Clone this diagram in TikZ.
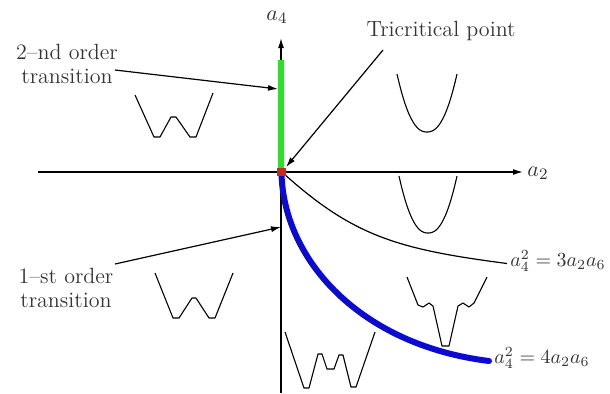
\documentclass[tikz,border=0pt]{standalone}
\usetikzlibrary{arrows.meta}
\tikzset{
  lbl/.style={font=\fontsize{11}{12}\selectfont, inner sep=0pt, text=black!80},
  eqlbl/.style={font=\fontsize{10}{12}\selectfont, inner sep=0pt, text=black!80},
  axisline/.style={line width=0.7pt, -{Latex[length=5pt,width=3pt]}},
  ptr/.style={line width=0.6pt, -{Latex[length=5pt,width=3pt]}},
  pot/.style={line width=0.55pt, line join=round},
  greenline/.style={line width=2.6pt, draw={rgb,255:red,40;green,225;blue,40}},
  blueline/.style={line width=3pt, draw={rgb,255:red,10;green,10;blue,210}},
  tripoint/.style={fill={rgb,255:red,200;green,40;blue,30}, minimum width=4.5pt, minimum height=3.8pt, inner sep=0pt}
}
\begin{document}
\begin{tikzpicture}[x=0.5pt,y=-0.5pt]
\useasboundingbox (0,0) rectangle (610,393);
% origin
\coordinate (O) at (281,172);
\coordinate (xs) at (38,172);
\coordinate (xe) at (523,172);
\coordinate (ys) at (281,393);
\coordinate (ye) at (281,38);
% axes
\draw[axisline] (xs) -- (xe);
\draw[axisline] (ys) -- (ye);
\node[lbl] (a2) at (538,173) {$a_2$};
\node[lbl] (a4) at (277,17) {$a_4$};
% green second-order line
\coordinate (gtop) at (281,60);
\coordinate (gbot) at (281,170);
\draw[greenline] (gtop) -- (gbot);
% curve ends
\coordinate (c3s) at (283,173);
\coordinate (c3e) at (507,263.5);
\coordinate (c4s) at (281.5,174);
\coordinate (c4e) at (489,361);
% black curve a4^2 = 3 a2 a6
\draw[line width=0.6pt] (c3s) .. controls (353,236) and (397,249.2) .. (c3e);
% blue curve a4^2 = 4 a2 a6
\draw[blueline, line cap=round] (c4s) .. controls (284,260) and (360,345) .. (c4e);
% tricritical point
\node[tripoint] (tp) at (O) {};
% labels of curves
\node[eqlbl, anchor=west] (eq3) at (510,261) {$a_4^2 = 3a_2a_6$};
\node[eqlbl, anchor=west] (eq4) at (494,358) {$a_4^2 = 4a_2a_6$};
% text labels
\node[lbl] (tri) at (441,31) {Tricritical point};
\node[lbl, align=center] (second) at (67,64) {2\textendash nd order\\transition};
\node[lbl, align=center] (first) at (66,288) {1\textendash st order\\transition};
% pointers
\coordinate (triS) at (383,50);
\coordinate (triE) at (286,167);
\draw[ptr] (triS) -- (triE);
\coordinate (secS) at (115,70);
\coordinate (secE) at (278,89);
\draw[ptr] (secS) -- (secE);
\coordinate (firS) at (115,264);
\coordinate (firE) at (281,227);
\draw[ptr] (firS) -- (firE);
% potentials
\draw[pot] (135,95) -- (154,137) -- (160,137) -- (171,117) -- (176,117) -- (190,137) -- (196,137) -- (213,93);
\draw[pot] plot[domain=-1:1, samples=40] ({427+30*\x}, {132-58*abs(\x)^2.3});
\draw[pot] plot[domain=-1:1, samples=40] ({428+29*\x}, {233-57*abs(\x)^2.3});
\draw[pot] (155,273) -- (173,318) -- (179,318) -- (192,298) -- (196,298) -- (209,318) -- (215,318) -- (233,273);
\draw[pot] (285,332) -- (304,388) -- (309,388) -- (318,354) -- (322,354) -- (327,369) -- (334,369) -- (339,355) -- (343,355) -- (351,387) -- (356,387) -- (375,332);
\draw[pot] (407,277) -- (418,305) -- (423,307) -- (429,303) -- (433,306) -- (442,346) -- (449,346) -- (458,306) -- (463,303) -- (469,307) -- (474,303) -- (487,277);
\end{tikzpicture}
\end{document}
